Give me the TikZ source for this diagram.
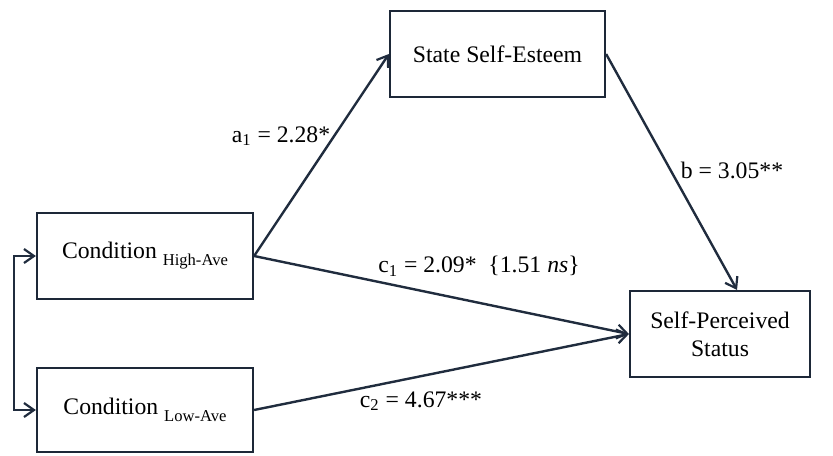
\documentclass[tikz,border=0pt]{standalone}
\usepackage{fontspec}
\setmainfont{Liberation Serif}
\usetikzlibrary{arrows.meta}
\definecolor{pathcol}{RGB}{32,44,62}
\tikzset{
  varbox/.style={draw=pathcol!90!black, line width=1.1pt, inner sep=0pt, align=center,
    font=\fontsize{11.85}{14}\selectfont},
  path/.style={draw=pathcol, line width=1.2pt, -{Straight Barb[length=5pt,width=7pt,line width=1.1pt]}},
  coef/.style={inner sep=0pt, font=\fontsize{11.85}{14}\selectfont}
}
\newcommand{\grp}[1]{\raisebox{-3.5pt}{\fontsize{8.3}{10}\selectfont #1}}
\begin{document}
\begin{tikzpicture}[x=0.5pt, y=-0.5pt]
\useasboundingbox (0,0) rectangle (833,455);
\node[varbox, minimum width=108pt, minimum height=43pt] (high) at (145,256) {Condition \grp{High-Ave}};
\node[varbox, minimum width=108pt, minimum height=42pt] (low) at (145,410) {Condition \grp{Low-Ave}};
\node[varbox, minimum width=107.5pt, minimum height=43pt] (ses) at (497.5,54) {State Self-Esteem};
\node[varbox, minimum width=90pt, minimum height=43pt] (sps) at (720,334) {Self-Perceived\\Status};
\coordinate (bend) at ([xshift=8.5pt]sps.north);
% paths
\draw[path] (high.east) -- (ses.west);
\draw[path] (ses.east) -- (bend);
\foreach \u in {high,low} \draw[path] (\u.east) -- (sps.west);
\draw[path, {Straight Barb[length=5pt,width=7pt,line width=1.1pt]}-{Straight Barb[length=5pt,width=7pt,line width=1.1pt]}]
  (high.west) -- ++(-22,0) |- (low.west);
% coefficients
\node[coef] (a1) at (281,136) {a\textsubscript{1} = 2.28*};
\node[coef] (bb) at (732,170) {b = 3.05**};
\node[coef] (c1) at (479,266) {c\textsubscript{1} = 2.09*~~\{1.51 \textit{ns}\}};
\node[coef] (c2) at (421,401) {c\textsubscript{2} = 4.67***};
\end{tikzpicture}
\end{document}
